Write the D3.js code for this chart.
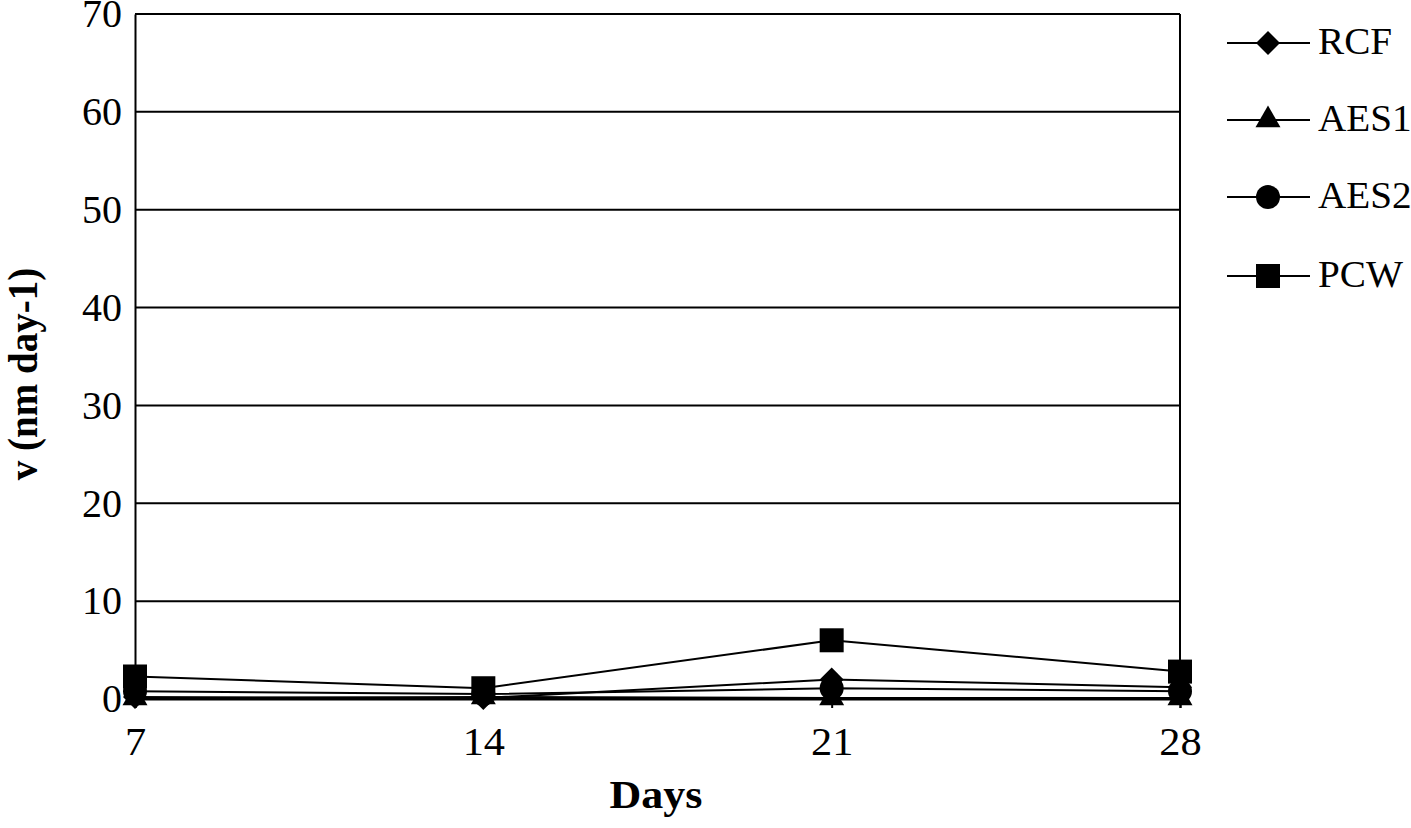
<!DOCTYPE html>
<html><head><meta charset="utf-8">
<script src="https://cdn.jsdelivr.net/npm/d3@7"></script>
<style>body{margin:0;background:#fff}svg{display:block}text{font-family:"Liberation Serif","Times New Roman",serif}</style>
</head><body><svg id="c" width="1411" height="828"></svg>
<script>
const days = [7, 14, 21, 28];
const yTicks = [0, 10, 20, 30, 40, 50, 60, 70];
const RCF = [0.2, 0.1, 2.0, 1.2];
const AES1 = [0.1, 0.2, 0.1, 0.1];
const AES2 = [0.8, 0.5, 1.1, 0.8];
const PCW = [2.3, 1.1, 6.0, 2.8];
const seriesNames = ["RCF", "AES1", "AES2", "PCW"];
const seriesValues = [RCF, AES1, AES2, PCW];
const symbols = [d3.symbolDiamond2, d3.symbolTriangle, d3.symbolCircle, d3.symbolSquare];
const symSizes = [367, 270, 452, 576];
const drawOrder = [1, 2, 0, 3];

const svg = d3.select("#c");
const L = 135, R = 1180, T = 14, B = 699;
const x = d3.scaleLinear().domain([7, 28]).range([L, R]);
const y = d3.scaleLinear().domain([0, 70]).range([B, T]);

// gridlines
svg.append("g").selectAll("line").data(yTicks).join("line")
  .attr("x1", L).attr("x2", R).attr("y1", d => y(d)).attr("y2", d => y(d))
  .attr("stroke", "#000").attr("stroke-width", 2);
// right border
svg.append("line").attr("x1", R).attr("x2", R).attr("y1", T).attr("y2", B).attr("stroke", "#000").attr("stroke-width", 2);

// y axis
const ya = svg.append("g").attr("transform", `translate(${L},0)`)
  .call(d3.axisLeft(y).tickValues(yTicks).tickSize(0).tickPadding(13));
ya.select(".domain").attr("stroke-width", 2);
ya.selectAll("text").attr("font-size", 40).attr("font-family", "Liberation Serif").attr("fill", "#000");

// x axis
const xa = svg.append("g").attr("transform", `translate(0,${B})`)
  .call(d3.axisBottom(x).tickValues(days).tickSize(9).tickPadding(19));
xa.select(".domain").attr("stroke-width", 2);
xa.selectAll(".tick line").attr("stroke-width", 2);
xa.selectAll("text").attr("font-size", 40).attr("font-family", "Liberation Serif").attr("fill", "#000")
  .attr("transform", "scale(1.06,1)");

// titles
svg.append("text").attr("transform", "translate(656,808) scale(1.1,1)").attr("text-anchor", "middle")
  .attr("font-size", 40).attr("font-weight", "bold").text("Days");
svg.append("text").attr("transform", "translate(37,374) rotate(-90) scale(1,1.08)").attr("text-anchor", "middle")
  .attr("font-size", 39).attr("font-weight", "bold").text("v (nm day-1)");

// series
const line = d3.line().x((d, i) => x(days[i])).y(d => y(d));
drawOrder.forEach(si => {
  const vals = seriesValues[si];
  const g = svg.append("g");
  g.append("path").attr("d", line(vals)).attr("fill", "none").attr("stroke", "#000").attr("stroke-width", 2);
  g.selectAll("path.m").data(vals).join("path").attr("class", "m")
    .attr("transform", (d, i) => `translate(${x(days[i])},${y(d)})`)
    .attr("d", d3.symbol().type(symbols[si]).size(symSizes[si])).attr("fill", "#000");
});

// legend
const legY = [43, 120, 197, 276];
seriesNames.forEach((n, i) => {
  const g = svg.append("g").attr("transform", `translate(0,${legY[i]})`);
  g.append("line").attr("x1", 1227).attr("x2", 1310).attr("y1", 0).attr("y2", 0).attr("stroke", "#000").attr("stroke-width", 2);
  g.append("path").attr("transform", "translate(1268,0)").attr("d", d3.symbol().type(symbols[i]).size(symSizes[i])).attr("fill", "#000");
  g.append("text").attr("transform", "translate(1318,11) scale(1.06,1)").attr("font-size", 37).text(n);
});
</script></body></html>
